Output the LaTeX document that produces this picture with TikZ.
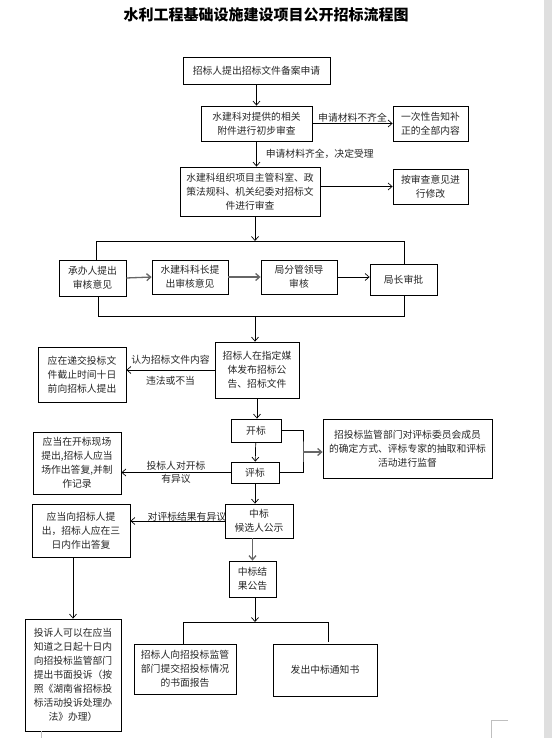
\documentclass[tikz,border=0pt]{standalone}
\usepackage{fontspec}
\newfontfamily\cjk{Noto Sans CJK SC}
\usetikzlibrary{arrows.meta}

\begin{document}
\begin{tikzpicture}[x=1pt, y=-1pt,
    >={Straight Barb[length=4pt,width=7pt]},
    box/.style={draw, line width=0.8pt, align=center, inner sep=1pt, text=black!85,
      font=\cjk\fontsize{9.8pt}{14pt}\selectfont},
    lbl/.style={text=black!85, inner sep=1pt, font=\cjk\fontsize{9.8pt}{14pt}\selectfont},
    link/.style={->, line width=0.7pt},
    heavy link/.style={->, line width=1.3pt, black!60}]
    \useasboundingbox (0,0) rectangle (552,738);
    \fill[gray!25] (544,0) rectangle (552,738);

    \node[font=\cjk\bfseries\fontsize{15pt}{18pt}\selectfont] (title) at (266,15) {水利工程基础设施建设项目公开招标流程图};

    % application and first check
    \node[box, minimum width=147pt, minimum height=27pt] (bA) at (256.5,70.5) {招标人提出招标文件备案申请};
    \node[box, minimum width=111pt, minimum height=35pt] (bB) at (256.5,123.5) {水建科对提供的相关\\附件进行初步审查};
    \node[box, minimum width=75pt, minimum height=35pt] (bC) at (430.5,123.5) {一次性告知补\\正的全部内容};
    \node[box, minimum width=140pt, minimum height=49pt] (bD) at (250,191.5) {水建科组织项目主管科室、政\\策法规科、机关纪委对招标文\\件进行审查};
    \node[box, minimum width=75pt, minimum height=35pt] (bE) at (430.5,186.5) {按审查意见进\\行修改};

    \draw[link] (bA) -- (bB);
    \draw[link] (bB.east) -- (bC.west) node[lbl, midway, above] {申请材料不齐全};
    \draw[link] (bB.south) -- (bB.south |- bD.north)
      node[lbl, midway, right, xshift=8pt] {申请材料齐全，决定受理};
    \draw[link] (bD.east |- bE.west) -- (bE.west);

    % approval chain
    \node[box, minimum width=67pt, minimum height=36pt] (bF) at (92.5,278) {承办人提出\\审核意见};
    \node[box, minimum width=76pt, minimum height=34pt] (bG) at (190,277) {水建科科长提\\出审核意见};
    \node[box, minimum width=76pt, minimum height=34pt] (bH) at (299,277) {局分管领导\\审核};
    \node[box, minimum width=67pt, minimum height=31pt] (bI) at (403.5,279.5) {局长审批};

    \coordinate (topbar) at (255,241);
    \coordinate (tl) at (96,241);
    \coordinate (tr) at (404,241);
    \coordinate (botbar) at (255,316);
    \coordinate (bl) at (98,316);
    \coordinate (br) at (404,316);

    \draw[link] (bD.south -| topbar) -- (topbar);
    \draw[line width=0.7pt] (tl |- bF.north) -- (tl) -- (tr) -- (tr |- bI.north);
    \draw[heavy link] (bF.east) -- (bG.west);
    \draw[heavy link] (bG.east) -- (bH.west);
    \draw[link] (bH.east) -- (bH.east -| bI.west);
    \draw[line width=0.7pt] (bl |- bF.south) -- (bl) -- (br) -- (br |- bI.south);

    % publication, opening, evaluation
    \node[box, minimum width=84pt, minimum height=56pt] (bJ) at (257,370) {招标人在指定媒\\体发布招标公\\告、招标文件};
    \node[box, minimum width=88pt, minimum height=55pt] (bK) at (82,374.5) {应在递交投标文\\件截止时间十日\\前向招标人提出};
    \node[box, minimum width=50pt, minimum height=23pt] (bL) at (256,430.5) {开标};
    \node[box, minimum width=48pt, minimum height=21pt] (bM) at (255,472.5) {评标};
    \node[box, minimum width=169pt, minimum height=59pt] (bN) at (407.5,448.5) {招投标监管部门对评标委员会成员\\的确定方式、评标专家的抽取和评标\\活动进行监督};
    \node[box, minimum width=88pt, minimum height=62pt] (bO) at (77,463) {应当在开标现场\\提出,招标人应当\\场作出答复,并制\\作记录};

    \draw[link] (botbar) -- (botbar |- bJ.north);
    \draw[link] (bJ.west) -- (bJ.west -| bK.east)
      node[lbl, midway, above, yshift=4pt] {认为招标文件内容}
      node[lbl, midway, below, yshift=-5pt] {违法或不当};
    \draw[link] (bJ.south) -- (bJ.south |- bL.north);
    \draw[link] (bL) -- (bM);
    \coordinate (watch) at (303,452);
    \draw[line width=0.7pt] (bL.east) -| (watch) |- (bM.east);
    \draw[heavy link] (watch) -- (watch -| bN.west);
    \draw[link] (bM.west) -- (bM.west -| bO.east)
      node[lbl, midway, above, yshift=1pt] {投标人对开标}
      node[lbl, midway, below] {有异议};

    % candidates and results
    \node[box, minimum width=68pt, minimum height=34pt] (bP) at (259,521) {中标\\候选人公示};
    \node[box, minimum width=98pt, minimum height=53pt] (bQ) at (81,530.5) {应当向招标人提\\出，招标人应在三\\日内作出答复};
    \node[box, minimum width=96pt, minimum height=112pt] (bR) at (73,675) {投诉人可以在应当\\知道之日起十日内\\向招投标监管部门\\提出书面投诉（按\\照《湖南省招标投\\标活动投诉处理办\\法》办理）};
    \node[box, minimum width=47pt, minimum height=36pt] (bS) at (252.5,579) {中标结\\果公告};
    \node[box, minimum width=102pt, minimum height=50pt] (bT) at (185,669) {招标人向招投标监管\\部门提交招投标情况\\的书面报告};
    \node[box, minimum width=104pt, minimum height=52pt] (bU) at (325,670) {发出中标通知书};

    \draw[link] (bM.south) -- (bM.south |- bP.north);
    \draw[link] (bP.west) -- (bP.west -| bQ.east)
      node[lbl, pos=0.4, above, yshift=-2pt] {对评标结果有异议};
    \draw[link] (bR.north |- bQ.south) -- (bR.north);
    \draw[heavy link] (bP.south -| bS.north) -- (bS.north);

    \coordinate (resbar) at (255,622);
    \coordinate (rl) at (183,622);
    \coordinate (rr) at (328,622);
    \draw[link] (bS.south -| resbar) -- (resbar);
    \draw[line width=0.7pt] (rl |- bT.north) -- (rl) -- (rr) -- ([yshift=2pt]rr |- bU.north);

    % page marks
    \draw[gray!50, line width=0.6pt] (508,720) -- (491,720) -- (491,738);
    \draw[gray!50, line width=0.6pt] (41,731) -- (41,738);
\end{tikzpicture}
\end{document}
